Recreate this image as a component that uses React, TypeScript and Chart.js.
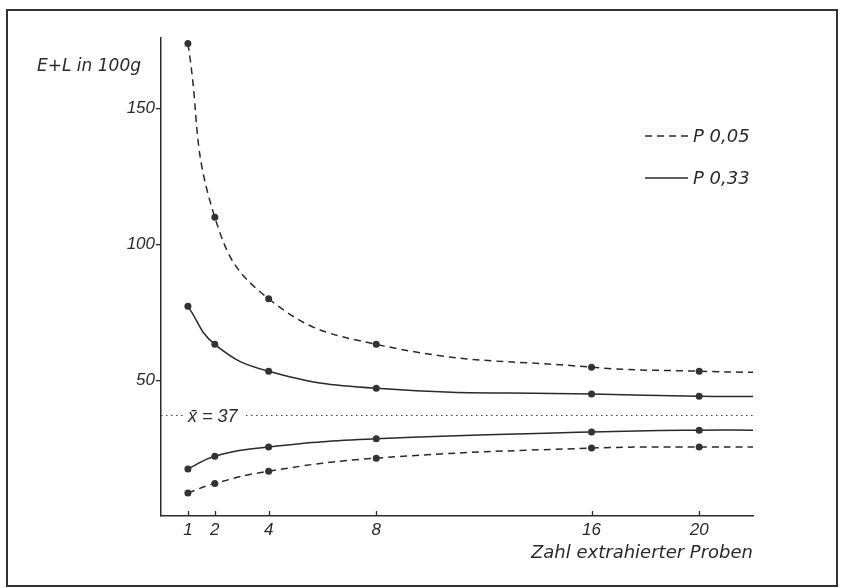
import React, { useEffect, useRef } from "react";
import { Chart, registerables } from "chart.js";

Chart.register(...registerables);

// ---- data ----
const xSamples = [1, 2, 4, 8, 16, 20, 22];
const markedSamples = [true, true, true, true, true, true, false];
const upperP05 = [174, 110, 80, 63.2, 54.8, 53.3, 52.9];
const upperP33 = [77.2, 63.2, 53.3, 47, 44.9, 44.1, 44];
const lowerP33 = [17.3, 22, 25.4, 28.4, 30.9, 31.6, 31.6];
const lowerP05 = [8.5, 12, 16.5, 21.3, 25, 25.4, 25.4];
const meanValue = 37;
const meanRange = [0, 22];
const xTickValues = [1, 2, 4, 8, 16, 20];
const yTickValues = [50, 100, 150];
const legendLabels = ["P 0,05", "P 0,33"];
const yAxisLabel = "E+L in 100g";
const xAxisLabel = "Zahl extrahierter Proben";
const meanLabel = "x\u0304 = 37";

const INK = "#2a2a2a";
const TEXT_FONT = '"DejaVu Sans", "Liberation Sans", sans-serif';
const NUM_FONT = '"Liberation Sans", "DejaVu Sans", sans-serif';
const DASH = [7, 5];

const toPts = (ys: number[]) => xSamples.map((x, i) => ({ x, y: ys[i] }));

const decorPlugin = {
  id: "decor",
  afterDatasetsDraw(chart: any) {
    const { ctx, chartArea, scales } = chart;
    const xs = scales.x;
    const ys = scales.y;
    ctx.save();
    // upward tick marks on x axis
    ctx.strokeStyle = INK;
    ctx.lineWidth = 1.3;
    xTickValues.forEach((v) => {
      const px = Math.round(xs.getPixelForValue(v)) + 0.5;
      ctx.beginPath();
      ctx.moveTo(px, chartArea.bottom);
      ctx.lineTo(px, chartArea.bottom - 5);
      ctx.stroke();
    });

    // mean label with a gap in the dotted line
    const my = ys.getPixelForValue(meanValue);
    const lx = xs.getPixelForValue(xSamples[0]);
    ctx.font = `italic 18px ${NUM_FONT}`;
    const w = ctx.measureText(meanLabel).width;
    ctx.fillStyle = "#ffffff";
    ctx.fillRect(lx - 2, my - 11, w + 8, 20);
    ctx.fillStyle = INK;
    ctx.textBaseline = "middle";
    ctx.textAlign = "left";
    ctx.fillText(meanLabel, lx, my + 1);

    // y axis label
    ctx.font = `italic 17px ${TEXT_FONT}`;
    ctx.fillText(yAxisLabel, 37, 67);

    // legend
    const legendY = [136, 178];
    const dashes = [DASH, []];
    legendLabels.forEach((lab, i) => {
      ctx.setLineDash(dashes[i]);
      ctx.lineWidth = 1.5;
      ctx.beginPath();
      ctx.moveTo(645, legendY[i]);
      ctx.lineTo(688, legendY[i]);
      ctx.stroke();
      ctx.setLineDash([]);
      ctx.font = `italic 18px ${TEXT_FONT}`;
      ctx.fillText(lab, 693, legendY[i] + 1);
    });

    // frame
    ctx.lineWidth = 2;
    ctx.strokeStyle = "#333";
    ctx.strokeRect(7, 10, 830, 576);
    ctx.restore();
  },
};

export default function App() {
  const ref = useRef<HTMLCanvasElement | null>(null);

  useEffect(() => {
    if (!ref.current) return;
    const lineDs = (label: string, ys: number[], dashed: boolean) => ({
      label,
      data: toPts(ys),
      borderColor: INK,
      backgroundColor: INK,
      borderWidth: 1.5,
      borderDash: dashed ? DASH : [],
      cubicInterpolationMode: "default" as const,
      tension: 0.45,
      pointRadius: (c: any) => (markedSamples[c.dataIndex] ? 3.5 : 0),
      pointBackgroundColor: "#333",
      pointBorderColor: "#333",
      pointBorderWidth: 0,
      fill: false,
    });

    const chart = new Chart(ref.current, {
      type: "line",
      data: {
        datasets: [
          lineDs("upper P 0,05", upperP05, true),
          lineDs("upper P 0,33", upperP33, false),
          lineDs("lower P 0,33", lowerP33, false),
          lineDs("lower P 0,05", lowerP05, true),
          {
            label: "mean",
            data: meanRange.map((x) => ({ x, y: meanValue })),
            borderColor: "#444",
            borderWidth: 1.2,
            borderDash: [1.5, 3.5],
            pointRadius: 0,
            tension: 0,
            fill: false,
          } as any,
        ],
      },
      options: {
        responsive: false,
        animation: false,
        layout: { padding: { left: 101, right: 88, top: 38, bottom: 0 } },
        plugins: { legend: { display: false }, tooltip: { enabled: false } },
        scales: {
          x: {
            type: "linear",
            min: 0,
            max: 22,
            afterBuildTicks: (s: any) => {
              s.ticks = xTickValues.map((v) => ({ value: v }));
            },
            afterFit: (s: any) => {
              s.height = 72;
            },
            grid: { display: false, drawTicks: false },
            border: { display: true, color: INK, width: 1.5 },
            ticks: {
              color: INK,
              padding: 4,
              maxRotation: 0,
              autoSkip: false,
              font: { family: NUM_FONT, size: 17, style: "italic" },
            },
            title: {
              display: true,
              text: xAxisLabel,
              align: "end",
              color: INK,
              padding: { top: 0, bottom: 24 },
              font: { family: TEXT_FONT, size: 18, style: "italic" },
            },
          },
          y: {
            type: "linear",
            min: 0,
            max: 176,
            afterBuildTicks: (s: any) => {
              s.ticks = yTickValues.map((v) => ({ value: v }));
            },
            afterFit: (s: any) => {
              s.width = 60;
            },
            grid: { drawOnChartArea: false, drawTicks: true, tickLength: 5, color: INK, lineWidth: 1.3 },
            border: { display: true, color: INK, width: 1.5 },
            ticks: {
              color: INK,
              padding: 1,
              font: { family: NUM_FONT, size: 17, style: "italic" },
            },
          },
        },
      },
      plugins: [decorPlugin],
    });
    return () => chart.destroy();
  }, []);

  return (
    <div style={{ position: "fixed", left: 0, top: 0, width: 841, height: 588, background: "#fff" }}>
      <canvas ref={ref} width={841} height={588} style={{ display: "block" }} />
    </div>
  );
}
